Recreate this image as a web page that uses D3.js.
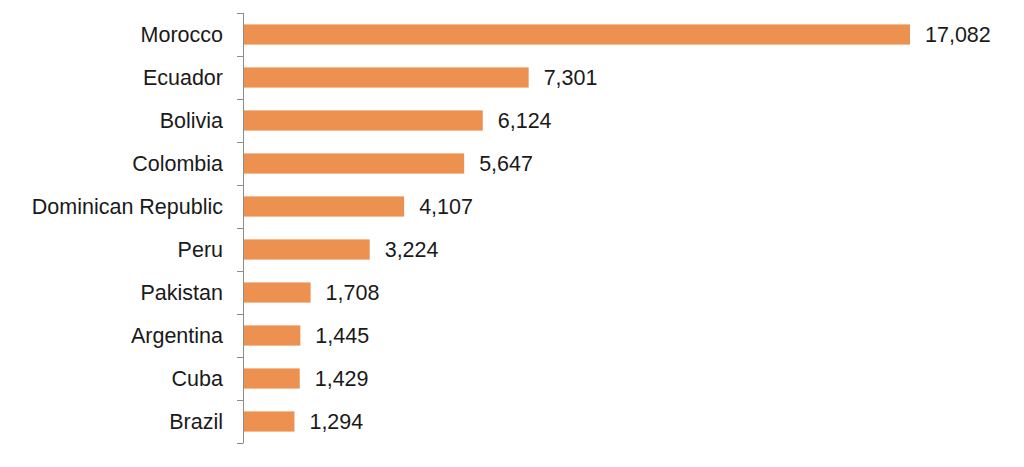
<!DOCTYPE html>
<html><head><meta charset="utf-8">
<script src="https://cdn.jsdelivr.net/npm/d3@7"></script>
<style>body{margin:0;background:#fff}svg{display:block}</style>
</head><body>
<svg id="chart" width="1024" height="467"></svg>
<script>
const categories = ["Morocco","Ecuador","Bolivia","Colombia","Dominican Republic","Peru","Pakistan","Argentina","Cuba","Brazil"];
const values = [17082,7301,6124,5647,4107,3224,1708,1445,1429,1294];

const svg = d3.select("#chart");
const x = d3.scaleLinear().domain([0, 17082]).range([244, 910]);
const y = d3.scaleBand().domain(categories).range([13, 443]).paddingInner(0.53).paddingOuter(0.265);
const yOuter = d3.scaleBand().domain(categories).range([13, 443]);

// bars
svg.selectAll("rect.bar").data(categories).join("rect")
  .attr("class","bar")
  .attr("x", x(0))
  .attr("y", d => y(d))
  .attr("height", y.bandwidth())
  .attr("width", (d,i) => x(values[i]) - x(0))
  .attr("fill", "#EC914F");

// axis line and ticks at band boundaries
const axisX = 243.5;
svg.append("line").attr("x1", axisX).attr("x2", axisX).attr("y1", 13).attr("y2", 443)
  .attr("stroke", "#8c8c8c").attr("stroke-width", 1);
const bounds = categories.map(c => yOuter(c)).concat([443]);
svg.selectAll("line.tick").data(bounds).join("line")
  .attr("class","tick")
  .attr("x1", 237).attr("x2", axisX)
  .attr("y1", d => Math.round(d) + 0.5).attr("y2", d => Math.round(d) + 0.5)
  .attr("stroke", "#8c8c8c").attr("stroke-width", 1);

// category labels
svg.selectAll("text.cat").data(categories).join("text")
  .attr("class","cat")
  .attr("x", 223)
  .attr("y", d => yOuter(d) + yOuter.bandwidth()/2)
  .attr("dy", "0.35em")
  .attr("text-anchor", "end")
  .attr("font-family", "Liberation Sans, Arial, sans-serif")
  .attr("font-size", 21.5)
  .attr("fill", "#1a1a1a")
  .text(d => d);

// value labels
const fmt = d3.format(",");
svg.selectAll("text.val").data(categories).join("text")
  .attr("class","val")
  .attr("x", (d,i) => x(values[i]) + 15)
  .attr("y", d => yOuter(d) + yOuter.bandwidth()/2)
  .attr("dy", "0.35em")
  .attr("font-family", "Liberation Sans, Arial, sans-serif")
  .attr("font-size", 21.5)
  .attr("fill", "#1a1a1a")
  .text((d,i) => fmt(values[i]));
</script>
</body></html>
